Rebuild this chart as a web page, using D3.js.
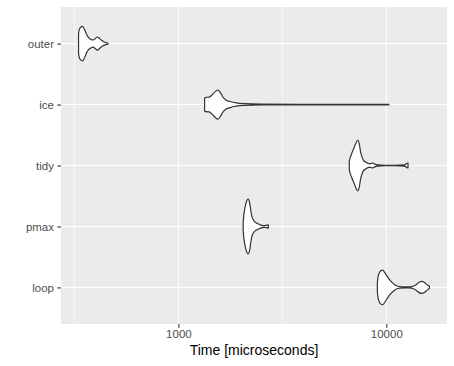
<!DOCTYPE html>
<html>
<head>
<meta charset="utf-8">
<script src="https://cdn.jsdelivr.net/npm/d3@7"></script>
<style>
  body { margin: 0; background: #fff; }
  text { font-family: "Liberation Sans", Arial, sans-serif; }
</style>
</head>
<body>
<div id="chart"></div>
<script>
// categories, top to bottom
var categories = ["outer", "ice", "tidy", "pmax", "loop"];

// violin outlines: time (microseconds) and relative density (1 = widest)
var outerTime = [331, 335, 346, 354, 362, 370, 379, 389, 398, 408, 418, 432, 447, 458];
var outerDens = [0.36, 0.55, 0.63, 0.51, 0.33, 0.22, 0.16, 0.13, 0.18, 0.24, 0.18, 0.09, 0.04, 0.02];

var iceTime = [1337, 1362, 1408, 1456, 1505, 1547, 1590, 1643, 1698, 1775, 1896, 2094, 2471, 3842, 10292];
var iceDens = [0.24, 0.26, 0.27, 0.36, 0.47, 0.53, 0.44, 0.26, 0.16, 0.11, 0.06, 0.03, 0.015, 0.01, 0.01];

var tidyTime = [6635, 6707, 6819, 6972, 7127, 7287, 7408, 7533, 7656, 7785, 7959, 8227, 8410, 8600, 8789, 9085, 9815, 10959, 12236, 12510, 12719];
var tidyDens = [0.15, 0.29, 0.44, 0.62, 0.80, 0.93, 0.80, 0.47, 0.29, 0.18, 0.13, 0.07, 0.07, 0.09, 0.05, 0.02, 0.01, 0.01, 0.02, 0.07, 0.09];

var pmaxTime = [2049, 2060, 2083, 2118, 2165, 2201, 2226, 2250, 2288, 2339, 2417, 2499, 2583, 2640, 2708];
var pmaxDens = [0.11, 0.36, 0.62, 0.87, 1.0, 0.87, 0.62, 0.40, 0.25, 0.16, 0.10, 0.05, 0.03, 0.04, 0.06];

var loopTime = [9055, 9116, 9236, 9391, 9600, 9815, 10033, 10257, 10544, 10839, 11202, 11580, 12237, 12930, 13514, 13971, 14442, 14843, 15259, 15775, 16128];
var loopDens = [0.15, 0.36, 0.51, 0.60, 0.63, 0.55, 0.44, 0.33, 0.22, 0.13, 0.06, 0.03, 0.02, 0.02, 0.05, 0.11, 0.20, 0.22, 0.18, 0.09, 0.04];

var xTicks = [1000, 10000];
var xTitle = "Time [microseconds]";

var violins = [
  {name: "outer", time: outerTime, dens: outerDens},
  {name: "ice", time: iceTime, dens: iceDens},
  {name: "tidy", time: tidyTime, dens: tidyDens},
  {name: "pmax", time: pmaxTime, dens: pmaxDens},
  {name: "loop", time: loopTime, dens: loopDens}
];

var W = 454, H = 366;
var margin = {top: 7, right: 7, bottom: 42, left: 61};
var width = W - margin.left - margin.right,
    height = H - margin.top - margin.bottom;

var svg = d3.select("#chart")
  .append("svg")
    .attr("width", W)
    .attr("height", H)
  .append("g")
    .attr("transform", "translate(" + margin.left + "," + margin.top + ")");

// log x with ggplot-like 5% expansion
var allTimes = d3.merge(violins.map(function(v) { return v.time; }));
var lmin = Math.log10(d3.min(allTimes)), lmax = Math.log10(d3.max(allTimes));
var pad = (lmax - lmin) * 0.05;
var x = d3.scaleLog()
    .domain([Math.pow(10, lmin - pad), Math.pow(10, lmax + pad)])
    .range([0, width]);

var y = d3.scalePoint()
    .domain(categories)
    .range([0, height])
    .padding(0.6);

var w = d3.scaleLinear().domain([0, 1]).range([0, y.step() * 0.45]);

// panel
svg.append("rect")
  .attr("width", width)
  .attr("height", height)
  .attr("fill", "#EBEBEB");

// minor grid (log midpoints)
var majors = [100, 1000, 10000, 100000];
var minors = d3.pairs(majors).map(function(p) { return Math.sqrt(p[0] * p[1]); })
  .filter(function(d) { return d > x.domain()[0] && d < x.domain()[1]; });

svg.selectAll(".minor")
  .data(minors)
  .enter().append("line")
    .attr("x1", function(d) { return x(d); })
    .attr("x2", function(d) { return x(d); })
    .attr("y1", 0).attr("y2", height)
    .attr("stroke", "#fff")
    .attr("stroke-width", 0.55);

svg.selectAll(".majorx")
  .data(xTicks)
  .enter().append("line")
    .attr("x1", function(d) { return x(d); })
    .attr("x2", function(d) { return x(d); })
    .attr("y1", 0).attr("y2", height)
    .attr("stroke", "#fff")
    .attr("stroke-width", 1.1);

svg.selectAll(".majory")
  .data(categories)
  .enter().append("line")
    .attr("x1", 0).attr("x2", width)
    .attr("y1", function(d) { return y(d); })
    .attr("y2", function(d) { return y(d); })
    .attr("stroke", "#fff")
    .attr("stroke-width", 1.1);

// violins
violins.forEach(function(v) {
  var cy = y(v.name);
  var pts = v.time.map(function(t, i) { return {t: t, d: v.dens[i]}; });
  var area = d3.area()
    .x(function(d) { return x(d.t); })
    .y0(function(d) { return cy - w(d.d); })
    .y1(function(d) { return cy + w(d.d); })
    .curve(d3.curveMonotoneX);
  svg.append("path")
    .datum(pts)
    .attr("d", area)
    .attr("fill", "#fff")
    .attr("stroke", "#333")
    .attr("stroke-width", 1.2)
    .attr("stroke-linejoin", "round");
});

// axes
var xAxis = svg.append("g")
  .attr("transform", "translate(0," + height + ")")
  .call(d3.axisBottom(x).tickValues(xTicks).tickFormat(d3.format("d")).tickSize(3.7).tickPadding(2));
var yAxis = svg.append("g")
  .call(d3.axisLeft(y).tickSize(3.7).tickPadding(3.3));

[xAxis, yAxis].forEach(function(a) {
  a.select(".domain").remove();
  a.selectAll(".tick line").attr("stroke", "#333").attr("stroke-width", 1.1);
  a.selectAll(".tick text")
    .attr("fill", "#4D4D4D")
    .style("font-size", "11.5px")
    .style("font-family", "'Liberation Sans', Arial, sans-serif");
});

svg.append("text")
  .attr("x", width / 2)
  .attr("y", height + 31)
  .attr("text-anchor", "middle")
  .attr("fill", "#000")
  .style("font-size", "14px")
  .text(xTitle);
</script>
</body>
</html>
